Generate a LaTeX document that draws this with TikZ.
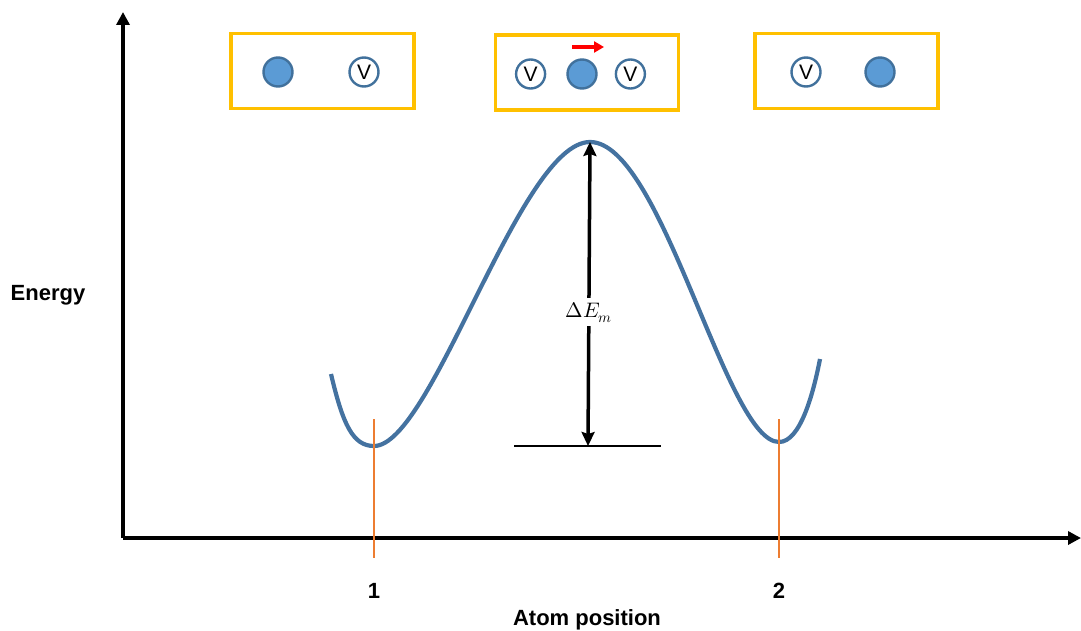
\documentclass[tikz,border=0pt]{standalone}
\usepackage{amsmath}
\usepackage{fontspec}
\usepackage{unicode-math}
\setsansfont{Liberation Sans}
\setmathfont{Latin Modern Math}
\usepackage{tikz}
\usetikzlibrary{positioning,arrows.meta}
\usepackage{xcolor}
\definecolor{BoxGold}{RGB}{255,192,0}
\definecolor{AtomBlue}{RGB}{91,155,213}
\definecolor{AtomEdge}{RGB}{65,113,156}
\definecolor{CurveBlue}{RGB}{68,114,160}
\definecolor{TickOrange}{RGB}{237,125,49}

\begin{document}
\begin{tikzpicture}[x=1pt, y=-1pt,
    cell/.style={rectangle, draw=BoxGold, line width=3.5pt, fill=white,
        minimum width=183pt, minimum height=75pt},
    atom/.style={circle, draw=AtomEdge, fill=AtomBlue, line width=2.4pt,
        minimum size=29pt, inner sep=0pt},
    vac/.style={circle, draw=AtomEdge, fill=white, line width=2.4pt,
        minimum size=29pt, inner sep=0pt, font=\sffamily\fontsize{21}{21}\selectfont},
    axis/.style={-{Triangle[length=13pt, width=13pt]}, line width=4pt},
    lbl/.style={font=\sffamily\bfseries\fontsize{22}{22}\selectfont, anchor=base},
    tickline/.style={TickOrange, line width=2pt},
    arr/.style={{Stealth[length=14pt, width=13pt, inset=2pt]}-{Stealth[length=14pt, width=13pt, inset=2pt]}, line width=3.5pt},
]
\useasboundingbox (0,0) rectangle (1081,631);

% axes
\coordinate (origin) at (123,538);
\coordinate (ytop) at (123,12);
\coordinate (xend) at (1081,538);
\draw[axis] (origin) -- (ytop);
\draw[axis] (origin) -- (xend);

% configurations
\node[cell] (c1) at (322.5,71) {};
\node[cell] (c2) at (587,72.5) {};
\node[cell] (c3) at (846.5,71) {};

\node[atom] (a1) at (278,72) {};
\node[vac] (v1) at (364,72) {V};

\node[atom] (a2) at (582,74) {};
\node[vac, left=20pt of a2] (v2) {V};
\node[vac, right=17pt of a2] (v3) {V};
\coordinate (jumpA) at (572,47);
\coordinate (jumpB) at (604,47);
\draw[-{Triangle[length=10pt, width=11pt]}, red, line width=3.5pt] (jumpA) -- (jumpB);

\node[vac] (v4) at (806,72) {V};
\node[atom] (a3) at (880,72) {};

% energy curve
\coordinate (s) at (331,374);
\coordinate (min1) at (374,446);
\coordinate (peak) at (590,142);
\coordinate (min2) at (779,442);
\coordinate (e) at (820,359);
\draw[CurveBlue, line width=4.2pt]
    (s) .. controls (343,425) and (353,446) .. (min1)
    .. controls (432,446) and (520,142) .. (peak)
    .. controls (662,142) and (726,442) .. (min2)
    .. controls (800,442) and (813,395) .. (e);

% positions
\coordinate (t1) at (374,419);
\coordinate (b1) at (374,558);
\coordinate (t2) at (779,419);
\coordinate (b2) at (779,558);
\draw[tickline] (t1) -- (b1);
\draw[tickline] (t2) -- (b2);

% barrier
\coordinate (baseL) at (514,446);
\coordinate (baseR) at (661,446);
\coordinate (baseM) at (588,446);
\draw[line width=2.5pt] (baseL) -- (baseR);
\draw[arr] (baseM) -- (peak)
    node[pos=0.44, fill=white, inner sep=4pt, font=\fontsize{21}{21}\selectfont] (dE) {$\Delta E_m$};

% labels
\node[lbl] (ylab) at (48,300) {Energy};
\node[lbl] (n1) at (374,598) {1};
\node[lbl] (n2) at (779,598) {2};
\node[lbl] (xlab) at (587,625) {Atom position};
\end{tikzpicture}
\end{document}
